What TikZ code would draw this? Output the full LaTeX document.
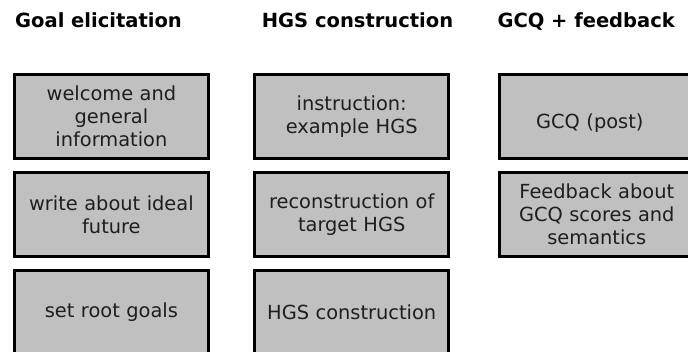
\documentclass[tikz,border=0pt]{standalone}
\usepackage{fontspec}
\setmainfont{DejaVu Sans}
\definecolor{boxfill}{HTML}{C0C0C0}
\definecolor{boxtext}{HTML}{1E1E1E}
\begin{document}
\begin{tikzpicture}[x=1pt,y=-1pt,
  stage/.style={draw=black, line width=3pt, fill=boxfill, text=boxtext,
    minimum width=194pt, minimum height=84pt, inner sep=0pt,
    align=center, text width=190pt,
    font=\fontsize{19.4}{23}\selectfont},
  heading/.style={anchor=base west, inner sep=0pt,
    font=\fontsize{19.5}{23}\selectfont\bfseries}]
\useasboundingbox (0,0) rectangle (688,352);

% column headings
\node[heading] (h1) at (15,28) {Goal elicitation};
\node[heading] (h2) at (261.7,28) {HGS construction};
\node[heading] (h3) at (497.3,28) {GCQ + feedback};

% goal elicitation
\node[stage] (g1) at (111.4,116.3) {welcome and\\general\\information};
\node[stage] (g2) at (111.4,214.3) {write about ideal\\future};
\node[stage] (g3) at (111.4,312.3) {set root goals};

% HGS construction
\node[stage] (c1) at (351.7,116.3) {instruction:\\example HGS};
\node[stage] (c2) at (351.7,214.3) {reconstruction of\\target HGS};
\node[stage] (c3) at (351.7,312.3) {HGS construction};

% GCQ + feedback (the label of the first box sits a little low and left)
\node[stage] (q1) at (596.8,116.3)
  {\kern-14pt\raisebox{-7pt}[\height][\depth]{GCQ (post)}};
\node[stage] (q2) at (596.8,214.3) {Feedback about\\GCQ scores and\\semantics};
\end{tikzpicture}
\end{document}
